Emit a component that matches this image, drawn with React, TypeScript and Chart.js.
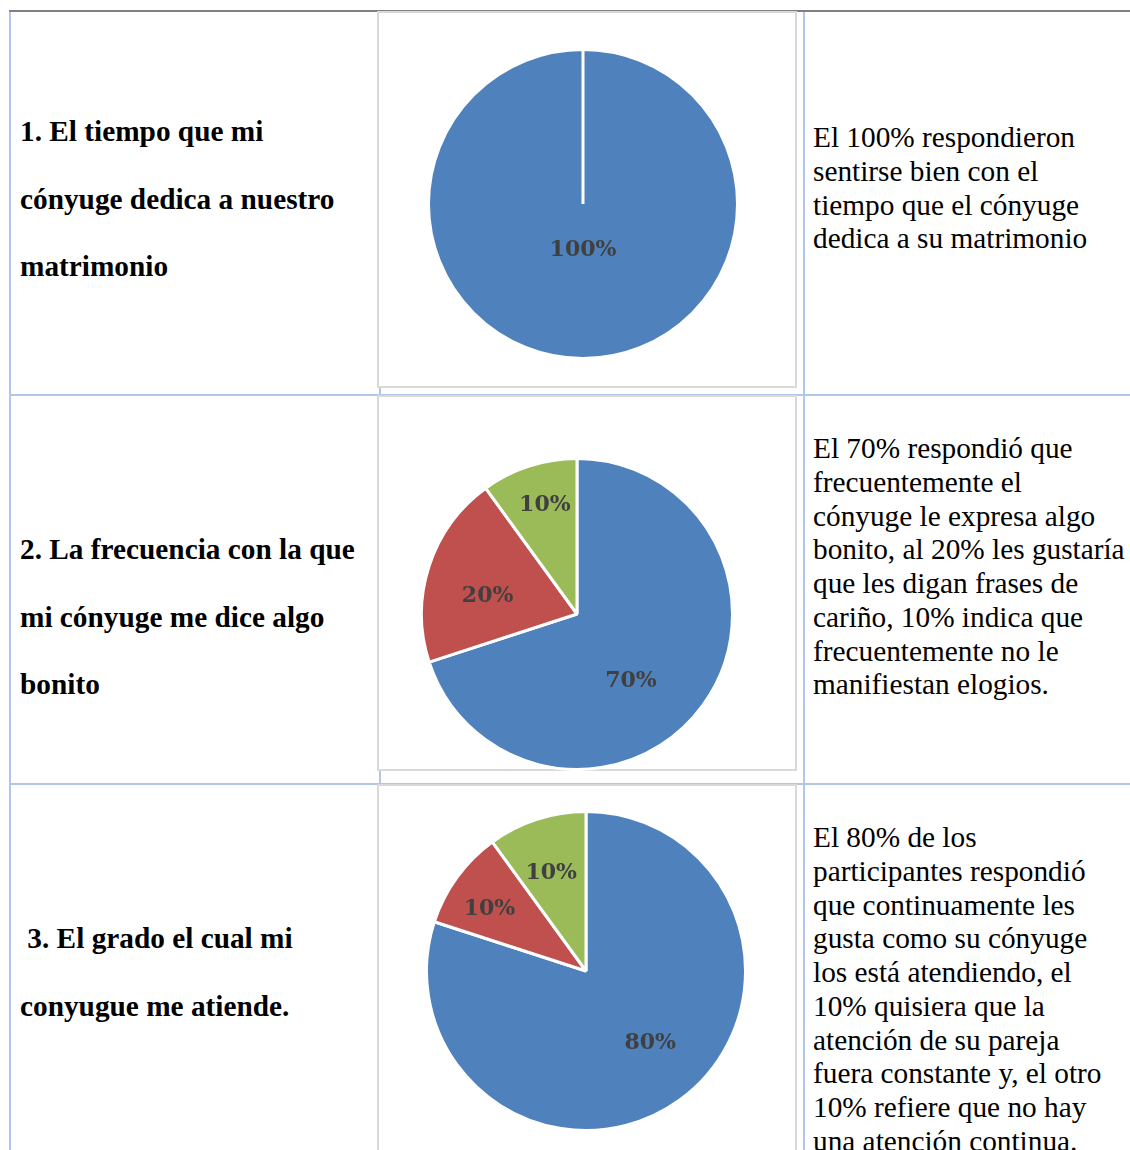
import React, { useEffect, useRef } from 'react';
import { Chart, registerables } from 'chart.js';

Chart.register(...registerables);

// ---------- DATA ----------
const q1Categories = ['Se sienten bien'];
const q1Values = [100];

const q2Categories = ['Frecuentemente', 'Les gustaría frases de cariño', 'No le manifiestan elogios'];
const q2Values = [70, 20, 10];

const q3Categories = ['Continuamente', 'Quisiera atención constante', 'No hay atención continua'];
const q3Values = [80, 10, 10];

const q1Title = ['1. El tiempo que mi', 'cónyuge dedica a nuestro', 'matrimonio'];
const q2Title = ['2. La frecuencia con la que', 'mi cónyuge me dice algo', 'bonito'];
const q3Title = [' 3. El grado el cual mi', 'conyugue me atiende.'];

const q1Text = [
  'El 100% respondieron',
  'sentirse bien con el',
  'tiempo que el cónyuge',
  'dedica a su matrimonio',
];
const q2Text = [
  'El 70% respondió que',
  'frecuentemente el',
  'cónyuge le expresa algo',
  'bonito, al 20% les gustaría',
  'que les digan frases de',
  'cariño, 10% indica que',
  'frecuentemente no le',
  'manifiestan elogios.',
];
const q3Text = [
  'El 80% de los',
  'participantes respondió',
  'que continuamente les',
  'gusta como su cónyuge',
  'los está atendiendo, el',
  '10% quisiera que la',
  'atención de su pareja',
  'fuera constante y, el otro',
  '10% refiere que no hay',
  'una atención continua.',
];

// ---------- STYLE ----------
const sliceColors = ['#4f81bd', '#c0504d', '#9bbb59'];
const blue = '#b4c6e7';
const boxGray = '#d9d9d9';
const serif = "'Liberation Serif', 'Times New Roman', serif";

const pctLabelPlugin = {
  id: 'pctLabels',
  afterDatasetsDraw(chart: any, _args: any, opts: any) {
    const { ctx } = chart;
    const meta = chart.getDatasetMeta(0);
    const values = chart.data.datasets[0].data as number[];
    ctx.save();
    ctx.font = opts.font;
    ctx.fillStyle = opts.color;
    ctx.textAlign = 'center';
    ctx.textBaseline = 'middle';
    meta.data.forEach((arc: any, i: number) => {
      const p = arc.getProps(['x', 'y', 'startAngle', 'endAngle', 'outerRadius'], true);
      const ang = (p.startAngle + p.endAngle) / 2 + ((opts.shift?.[i] || 0) * Math.PI) / 180;
      const r = p.outerRadius * (opts.radius?.[i] ?? 0.6);
      ctx.fillText(`${values[i]}%`, p.x + Math.cos(ang) * r, p.y + Math.sin(ang) * r + (opts.dy || 0));
    });
    ctx.restore();
  },
};

type PieProps = {
  categories: string[];
  values: number[];
  left: number;
  top: number;
  size: number;
  labelRadius: number[];
  labelShift: number[];
};

function Pie({ categories, values, left, top, size, labelRadius, labelShift }: PieProps) {
  const ref = useRef<HTMLCanvasElement | null>(null);
  useEffect(() => {
    if (!ref.current) return;
    const chart = new Chart(ref.current, {
      type: 'pie',
      data: {
        labels: categories,
        datasets: [
          {
            data: values,
            backgroundColor: sliceColors.slice(0, values.length),
            borderColor: '#ffffff',
            borderWidth: 3,
          },
        ],
      },
      options: {
        responsive: false,
        maintainAspectRatio: false,
        animation: false,
        layout: { padding: 0 },
        plugins: {
          legend: { display: false },
          tooltip: { enabled: false },
          pctLabels: {
            font: "bold 22px 'DejaVu Serif'",
            color: '#404040',
            radius: labelRadius,
            shift: labelShift,
            dy: 3,
          },
        } as any,
      },
      plugins: [pctLabelPlugin],
    });
    return () => chart.destroy();
  }, []);
  return (
    <canvas
      ref={ref}
      width={size}
      height={size}
      style={{ position: 'absolute', left, top, width: size, height: size, display: 'block' }}
    />
  );
}

function Lines({ lines, left, top, lineHeight, bold }: { lines: string[]; left: number; top: number; lineHeight: number; bold?: boolean }) {
  return (
    <div
      style={{
        position: 'absolute',
        left,
        top,
        fontFamily: serif,
        fontSize: '29.3px',
        fontWeight: bold ? 'bold' : 'normal',
        lineHeight: `${lineHeight}px`,
        color: '#000',
        whiteSpace: 'pre',
      }}
    >
      {lines.map((l, i) => (
        <div key={i}>{l}</div>
      ))}
    </div>
  );
}

const rect = (left: number, top: number, width: number, height: number, bg: string) => (
  <div style={{ position: 'absolute', left, top, width, height, background: bg }} />
);

const box = (left: number, top: number, width: number, height: number) => (
  <div
    style={{
      position: 'absolute',
      left,
      top,
      width,
      height,
      boxSizing: 'border-box',
      border: `2px solid ${boxGray}`,
      background: '#fff',
    }}
  />
);

export default function App() {
  return (
    <div
      style={{
        position: 'absolute',
        left: 0,
        top: 0,
        width: 1130,
        height: 1150,
        overflow: 'hidden',
        background: '#fff',
      }}
    >
      {/* table grid */}
      {rect(9, 10, 1121, 2, '#808080')}
      {rect(9, 12, 2, 1138, blue)}
      {rect(379, 12, 2, 1138, blue)}
      {rect(803, 12, 2, 1138, blue)}
      {rect(9, 394, 1121, 2, blue)}
      {rect(9, 783, 1121, 2, blue)}

      {/* chart frames */}
      {box(377, 11, 420, 377)}
      {box(377, 395, 420, 376)}
      {box(377, 784, 420, 400)}

      <Pie categories={q1Categories} values={q1Values} left={427} top={48} size={312} labelRadius={[0.28]} labelShift={[0]} />
      <Pie categories={q2Categories} values={q2Values} left={420} top={457} size={314} labelRadius={[0.54, 0.59, 0.75]} labelShift={[14, -5, 2]} />
      <Pie categories={q3Categories} values={q3Values} left={425} top={810} size={322} labelRadius={[0.59, 0.73, 0.67]} labelShift={[-7, -2, -1]} />

      {/* question labels */}
      <Lines lines={q1Title} left={20} top={98} lineHeight={67.5} bold />
      <Lines lines={q2Title} left={20} top={516.3} lineHeight={67.5} bold />
      <Lines lines={q3Title} left={20} top={905.3} lineHeight={67.5} bold />

      {/* descriptions */}
      <Lines lines={q1Text} left={813} top={121.3} lineHeight={33.7} />
      <Lines lines={q2Text} left={813} top={432.3} lineHeight={33.7} />
      <Lines lines={q3Text} left={813} top={821.3} lineHeight={33.7} />
    </div>
  );
}
